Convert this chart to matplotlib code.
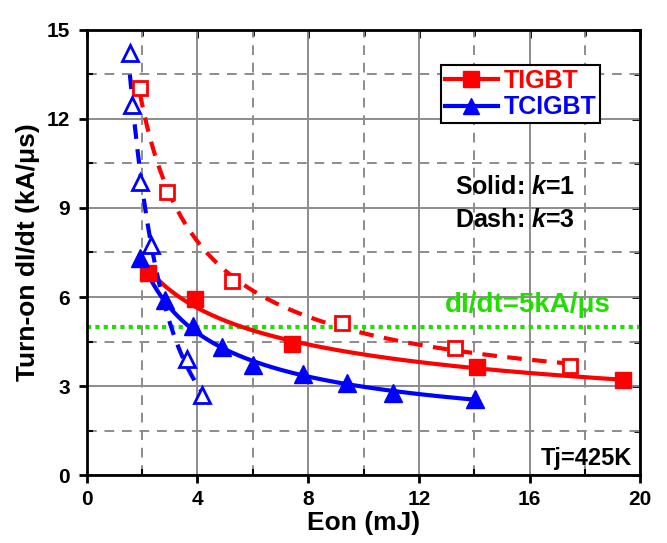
import matplotlib.pyplot as plt
import numpy as np
from matplotlib.ticker import MultipleLocator

plt.rcParams['font.family'] = ['Liberation Sans', 'DejaVu Sans']
plt.rcParams['font.weight'] = 'bold'
plt.rcParams['mathtext.fontset'] = 'custom'
plt.rcParams['mathtext.it'] = 'Liberation Sans:italic:bold'
plt.rcParams['mathtext.rm'] = 'Liberation Sans:bold'

# TIGBT, k=1 (solid, filled squares)
tigbt_k1_eon = [2.22, 3.91, 7.40, 14.09, 19.39]
tigbt_k1_didt = [6.80, 5.92, 4.41, 3.63, 3.20]
# TIGBT, k=3 (dash, open squares)
tigbt_k3_eon = [1.92, 2.90, 5.24, 9.21, 13.31, 17.47]
tigbt_k3_didt = [13.04, 9.55, 6.54, 5.13, 4.27, 3.67]
# TCIGBT, k=1 (solid, filled triangles)
tcigbt_k1_eon = [1.92, 2.82, 3.85, 4.87, 6.02, 7.82, 9.39, 11.08, 14.03]
tcigbt_k1_didt = [7.31, 5.90, 5.02, 4.30, 3.71, 3.40, 3.09, 2.77, 2.58]
# TCIGBT, k=3 (dash, open triangles)
tcigbt_k3_eon = [1.56, 1.62, 1.92, 2.34, 3.61, 4.15]
tcigbt_k3_didt = [14.23, 12.47, 9.87, 7.75, 3.90, 2.70]

didt_limit = 5

RED = '#ff0000'
BLUE = '#0000ff'
GREEN = '#22dd00'


# power-law style trend line (fit in log-log space)
def trend(x, y, deg):
    lx = np.log(x)
    c = np.polyfit(lx, np.log(y), deg)
    xs = np.linspace(min(x), max(x), 200)
    return xs, np.exp(np.polyval(c, np.log(xs)))


fig, ax = plt.subplots(figsize=(6.67, 5.43), dpi=100)
fig.subplots_adjust(left=0.130, right=0.960, bottom=0.125, top=0.945)

ax.set_xlim(0, 20)
ax.set_ylim(0, 15)
ax.xaxis.set_major_locator(MultipleLocator(4))
ax.xaxis.set_minor_locator(MultipleLocator(2))
ax.yaxis.set_major_locator(MultipleLocator(3))
ax.yaxis.set_minor_locator(MultipleLocator(1.5))
ax.grid(which='major', color='#8c8c8c', linewidth=1.4, linestyle='-')
ax.grid(which='minor', color='#8c8c8c', linewidth=1.4, linestyle=(0, (5, 4)))
ax.set_axisbelow(True)

ax.axhline(didt_limit, color=GREEN, linewidth=3, linestyle=(0, (1, 1)), zorder=2)

xs, ys = trend(tigbt_k1_eon, tigbt_k1_didt, 1)
ax.plot(xs, ys, color=RED, lw=3, zorder=3)
xs, ys = trend(tigbt_k3_eon, tigbt_k3_didt, 2)
ax.plot(xs, ys, color=RED, lw=3, ls=(0, (3.5, 2.5)), zorder=3)
xs, ys = trend(tcigbt_k1_eon, tcigbt_k1_didt, 2)
ax.plot(xs, ys, color=BLUE, lw=3, zorder=3)
xs, ys = trend(tcigbt_k3_eon, tcigbt_k3_didt, 2)
ax.plot(xs, ys, color=BLUE, lw=3, ls=(0, (3.5, 2.5)), zorder=3)

ax.plot(tigbt_k1_eon, tigbt_k1_didt, 's', color=RED, ms=11, zorder=4)
ax.plot(tigbt_k3_eon, tigbt_k3_didt, 's', mfc='white', mec=RED, mew=2, ms=10, zorder=4)
ax.plot(tcigbt_k1_eon, tcigbt_k1_didt, '^', color=BLUE, ms=13, zorder=4)
ax.plot(tcigbt_k3_eon, tcigbt_k3_didt, '^', mfc='white', mec=BLUE, mew=2, ms=12, zorder=4)

# legend handles
h1, = ax.plot([], [], color=RED, lw=3, marker='s', ms=11)
h2, = ax.plot([], [], color=BLUE, lw=3, marker='^', ms=12)
leg = ax.legend([h1, h2], ['TIGBT', 'TCIGBT'], loc='upper right',
                bbox_to_anchor=(0.928, 0.921), fancybox=False, framealpha=1,
                edgecolor='black', prop={'size': 18, 'weight': 'bold'},
                handlelength=2.1, handletextpad=0.25, borderpad=0.15,
                labelspacing=0.1, borderaxespad=0)
leg.get_frame().set_linewidth(1.5)
for t, c in zip(leg.get_texts(), [RED, BLUE]):
    t.set_color(c)

ax.text(13.3, 9.7, 'Solid: $k$=1', fontsize=18, fontweight='bold', va='center')
ax.text(13.3, 8.6, 'Dash: $k$=3', fontsize=18, fontweight='bold', va='center')
ax.text(12.95, 5.5, 'dI/dt=5kA/\u03bcs', fontsize=20, fontweight='bold', color=GREEN)
ax.text(19.7, 0.35, 'Tj=425K', fontsize=17, fontweight='bold', ha='right')

ax.set_xlabel('Eon (mJ)', fontsize=19, fontweight='bold', labelpad=1)
ax.set_ylabel('Turn-on dI/dt (kA/\u03bcs)', fontsize=19, fontweight='bold', labelpad=5)

for s in ax.spines.values():
    s.set_linewidth(2)
ax.tick_params(which='major', direction='out', length=6, width=2, labelsize=15)
ax.tick_params(axis='x', which='major', pad=5)
ax.tick_params(axis='y', which='major', pad=6)
ax.tick_params(which='minor', direction='in', length=4, width=1.5)

top = ax.secondary_xaxis('top')
top.xaxis.set_major_locator(MultipleLocator(4))
top.xaxis.set_minor_locator(MultipleLocator(2))
top.tick_params(which='both', direction='in', labeltop=False, width=2)
top.tick_params(which='major', length=6)
top.tick_params(which='minor', length=4)
right = ax.secondary_yaxis('right')
right.yaxis.set_major_locator(MultipleLocator(3))
right.yaxis.set_minor_locator(MultipleLocator(1.5))
right.tick_params(which='both', direction='in', labelright=False, width=2)
right.tick_params(which='major', length=6)
right.tick_params(which='minor', length=4)

fig.savefig('out.png', dpi=100)
